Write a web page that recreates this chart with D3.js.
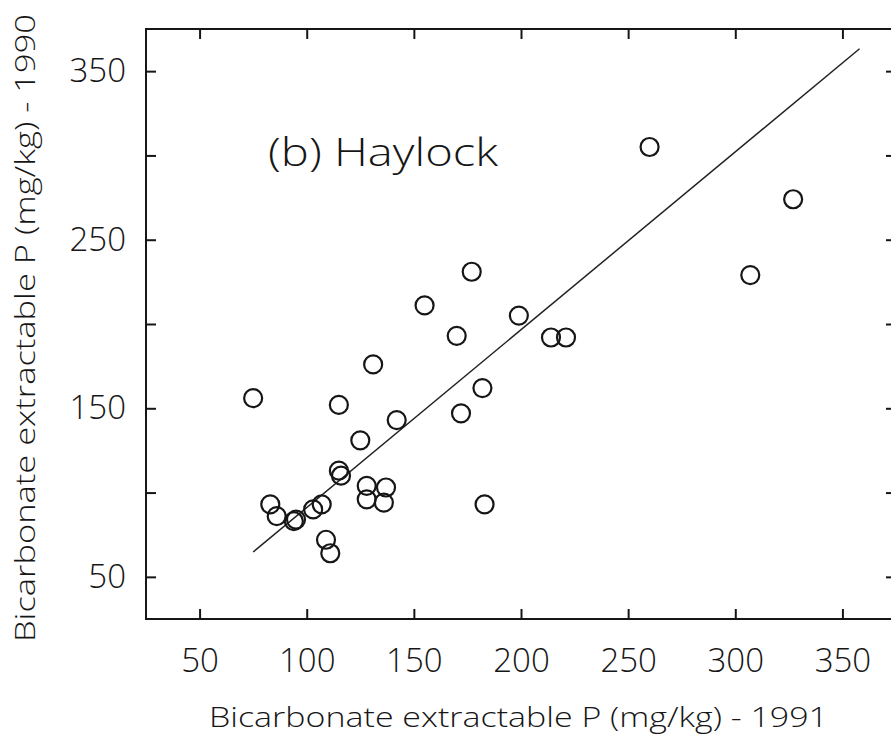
<!DOCTYPE html>
<html>
<head>
<meta charset="utf-8">
<script src="https://cdn.jsdelivr.net/npm/d3@7"></script>
<style>
  html, body { margin: 0; padding: 0; background: #fff; }
  svg { display: block; }
  text { font-family: "Open Sans", "Liberation Sans", Arial, sans-serif; font-weight: 300; fill: #161616; }
</style>
</head>
<body>
<svg id="chart" width="891" height="738"></svg>
<script>
// Bicarbonate extractable P (mg/kg), Haylock site: 1991 (x) vs 1990 (y)
const p1991 = [75, 83, 86, 94, 95, 103, 107, 109, 111, 115, 116, 115, 125, 128, 137, 128, 136,
               131, 142, 155, 170, 172, 177, 182, 183, 199, 214, 221, 260, 307, 327];
const p1990 = [156, 93, 86, 83, 84, 90, 93, 72, 64, 113, 110, 152, 131, 104, 103, 96, 94,
               176, 143, 211, 193, 147, 231, 162, 93, 205, 192, 192, 305, 229, 274];

// Fitted regression line
const fitSlope = 1.055;
const fitIntercept = -14.4;
const fitRange = [75, 358];

// Axis ticks
const xTicks = [50, 100, 150, 200, 250, 300, 350];
const yTicks = [50, 100, 150, 200, 250, 300, 350];
const yTickLabels = [50, 150, 250, 350];

const panelLabel = "(b) Haylock";
const xTitle = "Bicarbonate extractable P (mg/kg) - 1991";
const yTitle = "Bicarbonate extractable P (mg/kg) - 1990";

const svg = d3.select("#chart");
const plotLeft = 146, plotRight = 896, plotTop = 29, plotBottom = 619;

const x = d3.scaleLinear().domain([25, 375]).range([plotLeft, plotRight]);
const y = d3.scaleLinear().domain([25, 375]).range([plotBottom, plotTop]);

const ink = "#161616";
const fontStack = '"Open Sans", "Liberation Sans", Arial, sans-serif';

// Frame
svg.append("rect")
  .attr("x", plotLeft).attr("y", plotTop)
  .attr("width", plotRight - plotLeft).attr("height", plotBottom - plotTop)
  .attr("fill", "none").attr("stroke", ink).attr("stroke-width", 2);

function styleAxis(g) {
  g.select(".domain").remove();
  g.selectAll(".tick line").attr("stroke", ink).attr("stroke-width", 2);
  g.selectAll(".tick text").attr("fill", ink).style("font-size", "33px")
    .style("font-family", fontStack).style("font-weight", 300);
}

// Bottom axis with labels
svg.append("g").attr("transform", `translate(0,${plotBottom})`)
  .call(d3.axisBottom(x).tickValues(xTicks).tickSizeInner(-10).tickSizeOuter(0).tickPadding(30))
  .call(styleAxis);

// Top axis, ticks only
svg.append("g").attr("transform", `translate(0,${plotTop})`)
  .call(d3.axisTop(x).tickValues(xTicks).tickSizeInner(-10).tickSizeOuter(0).tickFormat(""))
  .call(styleAxis);

// Left axis, labels on every other tick
svg.append("g").attr("transform", `translate(${plotLeft},0)`)
  .call(d3.axisLeft(y).tickValues(yTicks).tickSizeInner(-10).tickSizeOuter(0).tickPadding(20)
    .tickFormat(d => yTickLabels.includes(d) ? d : ""))
  .call(styleAxis);

// Right axis, ticks only
svg.append("g").attr("transform", `translate(${plotRight},0)`)
  .call(d3.axisRight(y).tickValues(yTicks).tickSizeInner(-10).tickSizeOuter(0).tickFormat(""))
  .call(styleAxis);

// Regression line
svg.append("line")
  .attr("x1", x(fitRange[0])).attr("y1", y(fitIntercept + fitSlope * fitRange[0]))
  .attr("x2", x(fitRange[1])).attr("y2", y(fitIntercept + fitSlope * fitRange[1]))
  .attr("stroke", "#222").attr("stroke-width", 1.5);

// Observations
svg.append("g").selectAll("circle")
  .data(p1991.map((v, i) => [v, p1990[i]]))
  .join("circle")
  .attr("cx", d => x(d[0]))
  .attr("cy", d => y(d[1]))
  .attr("r", 9)
  .attr("fill", "none")
  .attr("stroke", ink)
  .attr("stroke-width", 2.2);

// Panel label
svg.append("text")
  .attr("x", 268).attr("y", 166)
  .attr("textLength", 230).attr("lengthAdjust", "spacingAndGlyphs")
  .style("font-size", "39px")
  .text(panelLabel);

// Axis titles
svg.append("text")
  .attr("x", 518.5).attr("y", 727)
  .attr("text-anchor", "middle")
  .attr("textLength", 619).attr("lengthAdjust", "spacingAndGlyphs")
  .style("font-size", "28px")
  .text(xTitle);

svg.append("text")
  .attr("transform", "translate(35,328) rotate(-90)")
  .attr("text-anchor", "middle")
  .attr("textLength", 628).attr("lengthAdjust", "spacingAndGlyphs")
  .style("font-size", "28px")
  .text(yTitle);
</script>
</body>
</html>
